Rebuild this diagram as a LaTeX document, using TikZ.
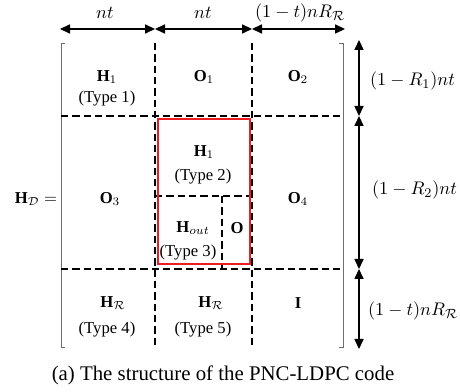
\documentclass[tikz,border=0pt]{standalone}
\usepackage{amsmath,amssymb}
\usepackage{fontspec}
\setmainfont{Liberation Serif}
\usetikzlibrary{arrows.meta,positioning,calc}
\definecolor{PncRed}{RGB}{237,28,36}
\definecolor{PncRule}{RGB}{110,110,110}

\begin{document}
\begin{tikzpicture}[x=0.6pt,y=-0.6pt,
    cell/.style={font=\fontsize{10}{12}\selectfont,inner sep=1pt},
    dim/.style={font=\fontsize{11}{13}\selectfont,inner sep=1pt},
    split/.style={line width=1.4pt,dash pattern=on 4.4pt off 2.4pt},
    bracket/.style={draw=PncRule,line width=0.5pt},
    span/.style={{Triangle[length=6pt,width=5.5pt]}-{Triangle[length=6pt,width=5.5pt]},line width=0.7pt},
    box/.style={draw=PncRed,line width=1.3pt}
  ]
    \useasboundingbox (0,0) rectangle (460,392);

    % matrix corners and grid
    \coordinate (tl) at (61,43);
    \coordinate (br) at (343,347);
    \draw[bracket] (65,43) -- (61,43) -- (61,347) -- (65,347);
    \draw[bracket] (339,43) -- (343,43) -- (343,347) -- (339,347);
    \draw[split] (61,116) -- (343,116);
    \draw[split] (61,269) -- (343,269);
    \draw[split] (155,43) -- (155,347);
    \draw[split] (252,43) -- (252,347);
    \draw[split] (155,196) -- (252,196);
    \draw[split] (222,196) -- (222,269);
    \draw[box] (158,119) rectangle (250,264);

    % blocks
    \node[cell] (h1) at (107,77) {$\textbf{H}_1$};
    \node[cell] (t1) at (107,99) {(Type 1)};
    \node[cell] (o1) at (204,77) {$\textbf{O}_1$};
    \node[cell] (o2) at (298,77) {$\textbf{O}_2$};
    \node[cell] (hd) at (36,199) {$\textbf{H}_{\mathcal{D}}=$};
    \node[cell] (o3) at (110,199) {$\textbf{O}_3$};
    \node[cell] (h2) at (204,152) {$\textbf{H}_1$};
    \node[cell] (t2) at (203,177) {(Type 2)};
    \node[cell] (o4) at (298,199) {$\textbf{O}_4$};
    \node[cell] (hout) at (193,228) {$\textbf{H}_{out}$};
    \node[cell] (o5) at (237,228) {$\textbf{O}$};
    \node[cell] (t3) at (188,253) {(Type 3)};
    \node[cell] (hr1) at (113,303) {$\textbf{H}_{\mathcal{R}}$};
    \node[cell] (t4) at (107,330) {(Type 4)};
    \node[cell] (hr2) at (211,303) {$\textbf{H}_{\mathcal{R}}$};
    \node[cell] (t5) at (203,330) {(Type 5)};
    \node[cell] (id) at (298,303) {$\textbf{I}$};

    % column widths
    \coordinate (c0) at (60,29);
    \coordinate (c1) at (155,29);
    \coordinate (c2) at (252,29);
    \coordinate (c3) at (345,29);
    \draw[span] (c0) -- (c1);
    \draw[span] (c1) -- (c2);
    \draw[span] (c2) -- (c3);
    \node[dim] (w1) at (105,13) {$nt$};
    \node[dim] (w2) at (203,13) {$nt$};
    \node[dim] (w3) at (300,13) {$(1-t)nR_{\mathcal{R}}$};

    % row heights
    \coordinate (r0) at (359,40);
    \coordinate (r1) at (359,116);
    \coordinate (r2) at (359,269);
    \coordinate (r3) at (359,349);
    \draw[span] (r0) -- (r1);
    \draw[span] (r1) -- (r2);
    \draw[span] (r2) -- (r3);
    \node[dim,anchor=west] (l1) at (368,81) {$(1-R_1)nt$};
    \node[dim,anchor=west] (l2) at (370,190) {$(1-R_2)nt$};
    \node[dim,anchor=west] (l3) at (366,311) {$(1-t)nR_{\mathcal{R}}$};

    \node[font=\fontsize{12.5}{14}\selectfont,inner sep=1pt] (cap) at (223,375) {(a) The structure of the PNC-LDPC code};
  \end{tikzpicture}
\end{document}
